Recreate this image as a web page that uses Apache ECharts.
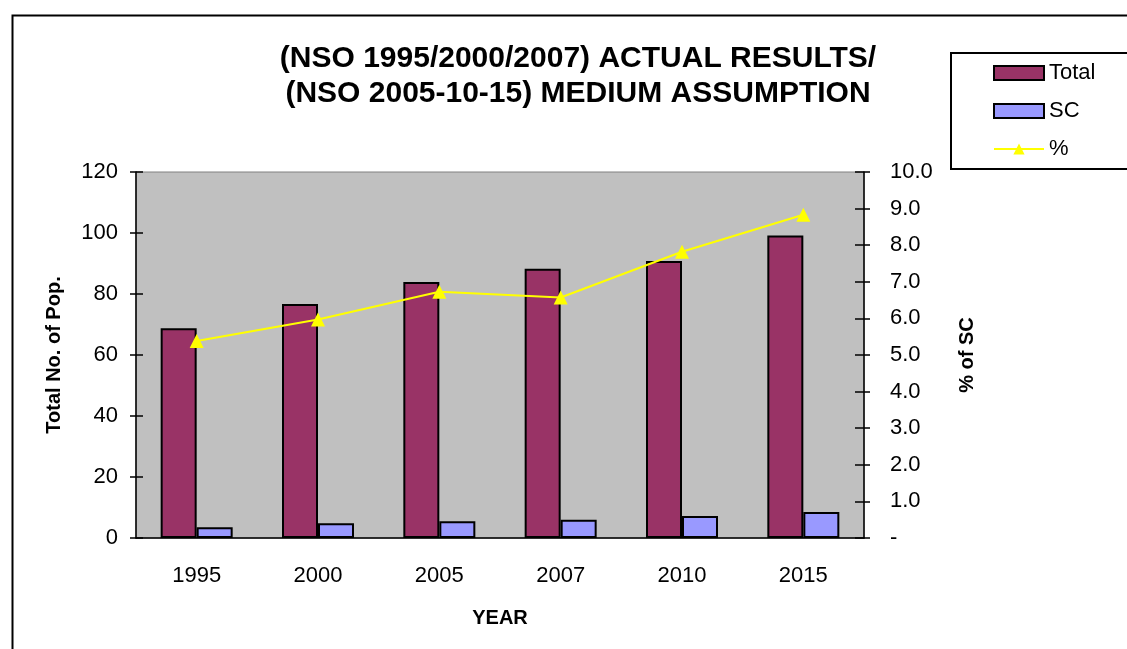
<!DOCTYPE html>
<html>
<head>
<meta charset="utf-8">
<script src="https://cdn.jsdelivr.net/npm/echarts@6/dist/echarts.min.js"></script>
<style>
  html, body { margin: 0; padding: 0; background: #fff; }
  #chart { width: 1127px; height: 649px; }
</style>
</head>
<body>
<div id="chart"></div>
<script>
const years = ['1995', '2000', '2005', '2007', '2010', '2015']
const totalPop = [68.8, 76.7, 83.9, 88.3, 90.8, 99.2]
const scPop = [3.5, 4.8, 5.5, 6.0, 7.2, 8.5]
const scPercent = [5.38, 5.97, 6.73, 6.57, 7.82, 8.83]

const font = 'Liberation Sans, Arial, sans-serif'
const gridBox = { left: 136, top: 172, right: 263, bottom: 111 }

const myChart = echarts.init(document.getElementById('chart'))
myChart.setOption({
  backgroundColor: '#fff',
  textStyle: { fontFamily: font, color: '#000' },
  title: {
    text: '(NSO 1995/2000/2007) ACTUAL RESULTS/\n(NSO 2005-10-15) MEDIUM ASSUMPTION',
    left: 573,
    top: 36,
    textAlign: 'center',
    textStyle: { fontSize: 30, fontWeight: 'bold', lineHeight: 35, color: '#000', fontFamily: font }
  },
  legend: {
    data: [
      { name: 'Total', icon: 'rect' },
      { name: 'SC', icon: 'rect' },
      { name: '%' }
    ],
    orient: 'vertical',
    left: 993,
    top: 62,
    padding: 0,
    itemWidth: 50,
    itemHeight: 14,
    itemGap: 16,
    textStyle: { fontSize: 22, color: '#000', fontFamily: font }
  },
  graphic: [
    { type: 'rect', left: 10, top: 13, shape: { width: 1200, height: 700 },
      style: { fill: 'none', stroke: '#000', lineWidth: 2 }, z: -10 },
    { type: 'rect', left: 950, top: 52, shape: { width: 200, height: 116 },
      style: { fill: '#fff', stroke: '#000', lineWidth: 2 }, z: -5 }
  ],
  grid: [
    Object.assign({ show: true, backgroundColor: '#c0c0c0', borderColor: '#808080', borderWidth: 1 }, gridBox),
    Object.assign({ show: false }, gridBox)
  ],
  xAxis: [
    {
      type: 'category',
      data: years,
      gridIndex: 0,
      name: 'YEAR',
      nameLocation: 'middle',
      nameGap: 70,
      nameTextStyle: { fontSize: 20, fontWeight: 'bold', color: '#000' },
      axisLine: { lineStyle: { color: '#000', width: 1.5 } },
      axisTick: { length: 8, lineStyle: { color: '#000', width: 1.5 } },
      axisLabel: { fontSize: 22, color: '#000', margin: 27 },
      splitLine: { show: false }
    },
    {
      type: 'category',
      data: years,
      gridIndex: 1,
      axisLine: { show: false },
      axisTick: { inside: true, length: 6, lineStyle: { color: '#000', width: 1.5 } },
      axisLabel: { show: false }
    }
  ],
  yAxis: [
    {
      type: 'value',
      gridIndex: 0,
      position: 'left',
      min: 0,
      max: 120,
      interval: 20,
      name: 'Total No. of Pop.',
      nameLocation: 'middle',
      nameGap: 72,
      nameTextStyle: { fontSize: 20, fontWeight: 'bold', color: '#000' },
      axisLine: { show: true, lineStyle: { color: '#000', width: 1.5 } },
      axisTick: { show: true, length: 6, lineStyle: { color: '#000', width: 1.5 } },
      axisLabel: { fontSize: 22, color: '#000', margin: 18 },
      splitLine: { show: false }
    },
    {
      type: 'value',
      gridIndex: 0,
      position: 'right',
      min: 0,
      max: 10,
      interval: 1,
      name: '% of SC',
      nameLocation: 'middle',
      nameGap: 93,
      nameTextStyle: { fontSize: 20, fontWeight: 'bold', color: '#000' },
      axisLine: { show: true, lineStyle: { color: '#000', width: 1.5 } },
      axisTick: { show: true, length: 6, lineStyle: { color: '#000', width: 1.5 } },
      axisLabel: {
        fontSize: 22, color: '#000', margin: 26,
        formatter: function (v) { return v === 0 ? '-' : v.toFixed(1) }
      },
      splitLine: { show: false }
    },
    {
      type: 'value',
      gridIndex: 1,
      position: 'left',
      min: 0,
      max: 120,
      interval: 20,
      axisLine: { show: false },
      axisTick: { show: true, inside: true, length: 7, lineStyle: { color: '#000', width: 1.5 } },
      axisLabel: { show: false },
      splitLine: { show: false }
    },
    {
      type: 'value',
      gridIndex: 1,
      position: 'right',
      min: 0,
      max: 10,
      interval: 1,
      axisLine: { show: false },
      axisTick: { show: true, inside: true, length: 9, lineStyle: { color: '#000', width: 1.5 } },
      axisLabel: { show: false },
      splitLine: { show: false }
    }
  ],
  series: [
    {
      name: 'Total',
      type: 'bar',
      xAxisIndex: 0,
      yAxisIndex: 0,
      data: totalPop,
      barWidth: 36,
      barGap: '0%',
      itemStyle: { color: '#993366', borderColor: '#000', borderWidth: 2 }
    },
    {
      name: 'SC',
      type: 'bar',
      xAxisIndex: 0,
      yAxisIndex: 0,
      data: scPop,
      barWidth: 36,
      barGap: '0%',
      itemStyle: { color: '#9999ff', borderColor: '#000', borderWidth: 2 }
    },
    {
      name: '%',
      type: 'line',
      xAxisIndex: 0,
      yAxisIndex: 1,
      data: scPercent,
      symbol: 'triangle',
      symbolSize: 14,
      z: 5,
      lineStyle: { color: '#ffff00', width: 2 },
      itemStyle: { color: '#ffff00' }
    }
  ]
})
</script>
</body>
</html>
